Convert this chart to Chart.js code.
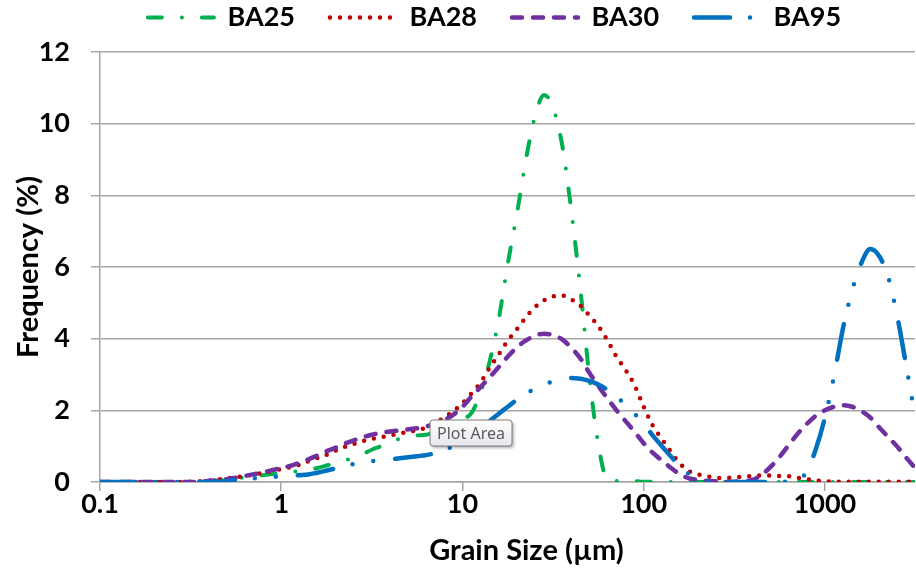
<!DOCTYPE html>
<html>
<head>
<meta charset="utf-8">
<script src="https://cdn.jsdelivr.net/npm/chart.js@4.4.0/dist/chart.umd.min.js"></script>
<style>
  body { margin: 0; background: #fff; }
</style>
</head>
<body>
<canvas id="myChart" width="916" height="575"></canvas>
<script>
// grain size classes (µm), 20 per decade
const grainSizes = [
    0.1, 0.112, 0.126, 0.141, 0.158, 0.178, 0.2, 0.224, 0.251, 0.282, 0.316, 0.355, 0.398, 0.447, 0.501, 0.562, 0.631, 0.708, 0.794, 0.891,
    1, 1.12, 1.26, 1.41, 1.58, 1.78, 2, 2.24, 2.51, 2.82, 3.16, 3.55, 3.98, 4.47, 5.01, 5.62, 6.31, 7.08, 7.94, 8.91,
    10, 11.2, 12.6, 14.1, 15.8, 17.8, 20, 22.4, 25.1, 28.2, 31.6, 35.5, 39.8, 44.7, 50.1, 56.2, 63.1, 70.8, 79.4, 89.1,
    100, 112, 126, 141, 158, 178, 200, 224, 251, 282, 316, 355, 398, 447, 501, 562, 631, 708, 794, 891,
    1000, 1122, 1259, 1413, 1585, 1778, 1995, 2239, 2512, 2818, 3162
];

// frequency (%) per class
const ba25 = [
    0, 0, 0, 0, 0, 0, 0, 0, 0, 0, 0, 0, 0.02, 0.04, 0.07, 0.1, 0.13, 0.16, 0.19, 0.22,
    0.25, 0.28, 0.31, 0.35, 0.39, 0.46, 0.53, 0.6, 0.68, 0.78, 0.9, 1.0, 1.12, 1.2, 1.27, 1.3, 1.32, 1.38, 1.48, 1.6,
    1.75, 1.92, 2.5, 3.35, 4.5, 6.1, 7.5, 9.0, 10.2, 10.8, 10.45, 9.4, 7.6, 5.4, 2.95, 1.05, 0.06, 0.03, 0.02, 0.02,
    0.01, 0.01, 0, 0, 0, 0, 0, 0, 0, 0, 0, 0, 0, 0, 0, 0, 0, 0, 0, 0,
    0, 0, 0, 0, 0, 0, 0, 0, 0, 0, 0
];
const ba28 = [
    0, 0, 0, 0, 0, 0, 0, 0, 0, 0, 0.01, 0.02, 0.04, 0.07, 0.1, 0.13, 0.17, 0.21, 0.26, 0.31,
    0.36, 0.41, 0.48, 0.58, 0.67, 0.76, 0.88, 0.98, 1.06, 1.14, 1.2, 1.25, 1.3, 1.35, 1.4, 1.45, 1.52, 1.65, 1.8, 1.98,
    2.2, 2.47, 2.78, 3.18, 3.55, 3.95, 4.27, 4.6, 4.88, 5.07, 5.18, 5.2, 5.1, 4.92, 4.65, 4.35, 3.95, 3.5, 3.13, 2.7,
    2.1, 1.58, 1.2, 0.85, 0.52, 0.3, 0.21, 0.16, 0.12, 0.11, 0.13, 0.15, 0.17, 0.18, 0.18, 0.17, 0.16, 0.12, 0.08, 0.04,
    0.02, 0.01, 0.01, 0.01, 0.01, 0.01, 0.01, 0.01, 0.01, 0.01, 0.01
];
const ba30 = [
    0, 0, 0, 0, 0, 0, 0, 0, 0, 0, 0, 0.01, 0.03, 0.05, 0.08, 0.12, 0.17, 0.22, 0.27, 0.33,
    0.39, 0.45, 0.54, 0.63, 0.74, 0.86, 0.96, 1.07, 1.16, 1.25, 1.32, 1.37, 1.41, 1.44, 1.47, 1.5, 1.55, 1.62, 1.73, 1.88,
    2.1, 2.38, 2.65, 2.92, 3.2, 3.5, 3.76, 3.95, 4.08, 4.14, 4.1, 3.98, 3.75, 3.45, 3.05, 2.68, 2.33, 2.0, 1.7, 1.4,
    1.08, 0.82, 0.6, 0.4, 0.22, 0.1, 0.06, 0.03, 0.02, 0.01, 0.01, 0.02, 0.06, 0.2, 0.42, 0.7, 1.03, 1.35, 1.62, 1.85,
    2.0, 2.1, 2.14, 2.1, 1.98, 1.8, 1.52, 1.25, 0.98, 0.67, 0.38
];
const ba95 = [
    0, 0, 0, 0, 0, 0, 0, 0, 0, 0, 0, 0, 0, 0.01, 0.03, 0.06, 0.08, 0.1, 0.12, 0.14,
    0.16, 0.17, 0.19, 0.21, 0.26, 0.32, 0.38, 0.44, 0.5, 0.55, 0.58, 0.61, 0.63, 0.66, 0.69, 0.72, 0.75, 0.81, 0.9, 1.0,
    1.13, 1.3, 1.5, 1.7, 1.9, 2.1, 2.3, 2.47, 2.6, 2.72, 2.81, 2.87, 2.9, 2.88, 2.82, 2.72, 2.57, 2.38, 2.15, 1.9,
    1.63, 1.3, 1.0, 0.72, 0.44, 0.22, 0.07, 0.02, 0.01, 0, 0, 0, 0, 0, 0, 0, 0.01, 0.04, 0.3, 0.92,
    1.8, 2.95, 4.3, 5.35, 6.1, 6.5, 6.3, 5.7, 4.6, 3.2, 1.75
];

const seriesNames = ['BA25', 'BA28', 'BA30', 'BA95'];
const seriesColors = ['#00B050', '#C00000', '#7030A0', '#0070C0'];
const xTicks = [0.1, 1, 10, 100, 1000];
const xTickLabels = ['0.1', '1', '10', '100', '1000'];

const gridColor = '#a6a6a6';
const boldFont = { family: 'Lato', weight: 'bold', size: 27 };
const titleFont = { family: 'Lato', weight: 'bold', size: 29 };

// line styles (Excel dash types)
const dashes = [
    [14, 20, 0, 20],          // long dash dot
    [0, 10],                  // round dot
    [10, 11],                 // dash
    [36, 20, 0, 21, 0, 22]    // long dash dot dot
];
const widths = [4, 4.5, 4.5, 4.5];

function toPoints(values) {
    return grainSizes.map((x, i) => ({ x: x, y: values[i] }));
}

const allValues = [ba25, ba28, ba30, ba95];
const datasets = allValues.map((values, i) => ({
    label: seriesNames[i],
    data: toPoints(values),
    borderColor: seriesColors[i],
    backgroundColor: seriesColors[i],
    borderWidth: widths[i],
    borderDash: dashes[i],
    borderCapStyle: 'round',
    borderJoinStyle: 'round',
    order: 3 - i,
    fill: false
}));

// keep the legend box at a fixed height so the plot starts where it should,
// and nudge it a little to the left like in the original
const legendPlacement = {
    id: 'legendPlacement',
    beforeInit(chart) {
        const fit = chart.legend.fit;
        chart.legend.fit = function () {
            fit.call(this);
            this.height = 83;
        };
    },
    afterLayout(chart) {
        chart.legend.left -= 13;
        chart.legend.right -= 13;
    }
};

// x axis title sits a bit right of the plot centre
const shiftXTitle = {
    id: 'shiftXTitle',
    afterLayout(chart) {
        const s = chart.scales.x;
        if (s._titleShifted) return;
        const draw = s.drawTitle;
        s.drawTitle = function () {
            this.ctx.save();
            this.ctx.translate(19, 0);
            draw.call(this);
            this.ctx.restore();
        };
        s._titleShifted = true;
    }
};

// the "Plot Area" hover label that shows in the screenshot
const plotAreaTip = {
    id: 'plotAreaTip',
    afterDraw(chart) {
        const c = chart.ctx;
        const x = 430, y = 420, w = 82, h = 26, r = 3;
        c.save();
        c.beginPath();
        c.moveTo(x + r, y);
        c.arcTo(x + w, y, x + w, y + h, r);
        c.arcTo(x + w, y + h, x, y + h, r);
        c.arcTo(x, y + h, x, y, r);
        c.arcTo(x, y, x + w, y, r);
        c.closePath();
        c.shadowColor = 'rgba(0,0,0,0.3)';
        c.shadowBlur = 3;
        c.shadowOffsetX = 2;
        c.shadowOffsetY = 2;
        const g = c.createLinearGradient(0, y, 0, y + h);
        g.addColorStop(0, '#ffffff');
        g.addColorStop(1, '#e6e7ee');
        c.fillStyle = g;
        c.fill();
        c.shadowColor = 'transparent';
        c.strokeStyle = '#7a7a7a';
        c.lineWidth = 1;
        c.stroke();
        c.fillStyle = '#5a5a5a';
        c.font = '16px "Noto Sans"';
        c.textBaseline = 'middle';
        c.fillText('Plot Area', x + 7, y + h / 2 + 1);
        c.restore();
    }
};

const ctx = document.getElementById('myChart').getContext('2d');
const myChart = new Chart(ctx, {
    type: 'line',
    data: { datasets: datasets },
    plugins: [legendPlacement, shiftXTitle, plotAreaTip],
    options: {
        responsive: false,
        animation: false,
        devicePixelRatio: 1,
        layout: { padding: { top: -31, right: 1, left: 0, bottom: 0 } },
        elements: {
            point: { radius: 0, hoverRadius: 0 },
            line: { cubicInterpolationMode: 'monotone' }
        },
        plugins: {
            tooltip: { enabled: false },
            legend: {
                position: 'top',
                fullSize: false,
                labels: {
                    usePointStyle: true,
                    pointStyleWidth: 66,
                    padding: 35,
                    color: '#000',
                    font: boldFont,
                    generateLabels(chart) {
                        return chart.data.datasets.map((ds, i) => ({
                            text: ds.label,
                            datasetIndex: i,
                            hidden: false,
                            fillStyle: ds.borderColor,
                            strokeStyle: ds.borderColor,
                            fontColor: '#000',
                            lineWidth: ds.borderWidth,
                            lineDash: ds.borderDash,
                            lineDashOffset: 0,
                            lineCap: 'round',
                            lineJoin: 'round',
                            pointStyle: 'line',
                            rotation: 0
                        }));
                    }
                }
            }
        },
        scales: {
            x: {
                type: 'logarithmic',
                min: 0.1,
                max: 3140,
                afterBuildTicks(scale) {
                    scale.ticks = xTicks.map(v => ({ value: v }));
                },
                afterFit(scale) {
                    scale.height = 93;
                },
                ticks: {
                    color: '#000',
                    font: { ...boldFont, lineHeight: 1 },
                    padding: 0,
                    maxRotation: 0,
                    autoSkip: false,
                    callback: (value, index) => xTickLabels[index]
                },
                grid: { drawOnChartArea: false, drawTicks: true, tickLength: 9, color: gridColor, lineWidth: 1.5 },
                border: { color: gridColor, width: 1.5 },
                title: {
                    display: true,
                    text: 'Grain Size (µm)',
                    color: '#000',
                    font: titleFont,
                    padding: { top: 0, bottom: 7 }
                }
            },
            y: {
                min: 0,
                max: 12,
                afterFit(scale) {
                    scale.width = 100;
                },
                ticks: { stepSize: 2, color: '#000', font: boldFont, padding: 21 },
                grid: { tickLength: 9, color: gridColor, lineWidth: 1.5 },
                border: { color: gridColor, width: 1.5 },
                title: {
                    display: true,
                    text: 'Frequency (%)',
                    color: '#000',
                    font: titleFont,
                    padding: { top: 11, bottom: 0 }
                }
            }
        }
    }
});
</script>
</body>
</html>
